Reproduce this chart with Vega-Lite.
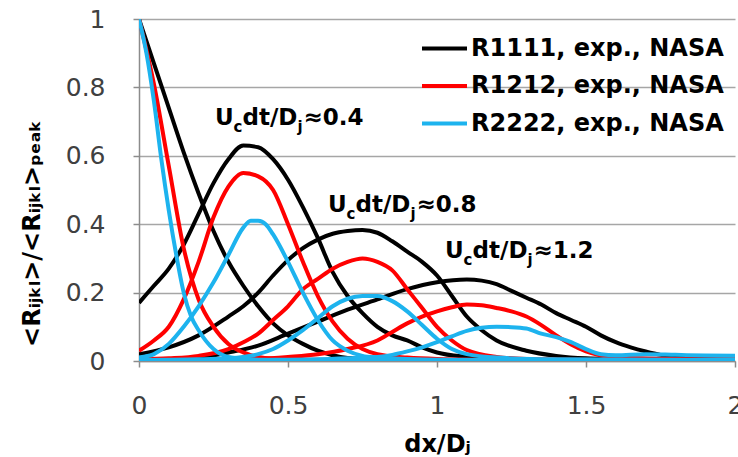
{
  "$schema": "https://vega.github.io/schema/vega-lite/v6.json",
  "width": 596,
  "height": 342,
  "autosize": {"type": "none"},
  "padding": {"left": 139, "top": 19, "right": 3, "bottom": 96},
  "background": "white",
  "config": {"view": {"stroke": null}, "font": "DejaVu Sans"},
  "datasets": {
    "curves": [
      {"s":"R1111","t":0,"x":0,"y":1},{"s":"R1111","t":0,"x":0.05,"y":0.87},{"s":"R1111","t":0,"x":0.1,"y":0.74},{"s":"R1111","t":0,"x":0.15,"y":0.61},{"s":"R1111","t":0,"x":0.2,"y":0.49},{"s":"R1111","t":0,"x":0.25,"y":0.38},{"s":"R1111","t":0,"x":0.3,"y":0.29},{"s":"R1111","t":0,"x":0.35,"y":0.22},{"s":"R1111","t":0,"x":0.4,"y":0.16},{"s":"R1111","t":0,"x":0.45,"y":0.11},{"s":"R1111","t":0,"x":0.5,"y":0.075},{"s":"R1111","t":0,"x":0.55,"y":0.05},{"s":"R1111","t":0,"x":0.6,"y":0.03},{"s":"R1111","t":0,"x":0.65,"y":0.017},{"s":"R1111","t":0,"x":0.7,"y":0.009},{"s":"R1111","t":0,"x":0.8,"y":0.004},{"s":"R1111","t":0,"x":1,"y":0.002},{"s":"R1111","t":0,"x":1.5,"y":0.001},{"s":"R1111","t":0,"x":2,"y":0},
      {"s":"R1111","t":0.4,"x":0,"y":0.17},{"s":"R1111","t":0.4,"x":0.05,"y":0.22},{"s":"R1111","t":0.4,"x":0.1,"y":0.27},{"s":"R1111","t":0.4,"x":0.15,"y":0.34},{"s":"R1111","t":0.4,"x":0.2,"y":0.43},{"s":"R1111","t":0.4,"x":0.25,"y":0.52},{"s":"R1111","t":0.4,"x":0.3,"y":0.59},{"s":"R1111","t":0.4,"x":0.35,"y":0.63},{"s":"R1111","t":0.4,"x":0.4,"y":0.625},{"s":"R1111","t":0.4,"x":0.45,"y":0.59},{"s":"R1111","t":0.4,"x":0.5,"y":0.53},{"s":"R1111","t":0.4,"x":0.55,"y":0.45},{"s":"R1111","t":0.4,"x":0.6,"y":0.36},{"s":"R1111","t":0.4,"x":0.65,"y":0.26},{"s":"R1111","t":0.4,"x":0.7,"y":0.19},{"s":"R1111","t":0.4,"x":0.75,"y":0.14},{"s":"R1111","t":0.4,"x":0.8,"y":0.1},{"s":"R1111","t":0.4,"x":0.85,"y":0.075},{"s":"R1111","t":0.4,"x":0.9,"y":0.06},{"s":"R1111","t":0.4,"x":0.95,"y":0.04},{"s":"R1111","t":0.4,"x":1,"y":0.025},{"s":"R1111","t":0.4,"x":1.1,"y":0.012},{"s":"R1111","t":0.4,"x":1.2,"y":0.006},{"s":"R1111","t":0.4,"x":1.4,"y":0.003},{"s":"R1111","t":0.4,"x":1.7,"y":0.002},{"s":"R1111","t":0.4,"x":2,"y":0.001},
      {"s":"R1111","t":0.8,"x":0,"y":0.02},{"s":"R1111","t":0.8,"x":0.1,"y":0.04},{"s":"R1111","t":0.8,"x":0.2,"y":0.075},{"s":"R1111","t":0.8,"x":0.3,"y":0.13},{"s":"R1111","t":0.8,"x":0.35,"y":0.16},{"s":"R1111","t":0.8,"x":0.4,"y":0.2},{"s":"R1111","t":0.8,"x":0.45,"y":0.25},{"s":"R1111","t":0.8,"x":0.5,"y":0.295},{"s":"R1111","t":0.8,"x":0.55,"y":0.33},{"s":"R1111","t":0.8,"x":0.6,"y":0.355},{"s":"R1111","t":0.8,"x":0.65,"y":0.372},{"s":"R1111","t":0.8,"x":0.7,"y":0.38},{"s":"R1111","t":0.8,"x":0.75,"y":0.383},{"s":"R1111","t":0.8,"x":0.8,"y":0.375},{"s":"R1111","t":0.8,"x":0.85,"y":0.35},{"s":"R1111","t":0.8,"x":0.9,"y":0.32},{"s":"R1111","t":0.8,"x":0.95,"y":0.29},{"s":"R1111","t":0.8,"x":1,"y":0.25},{"s":"R1111","t":0.8,"x":1.05,"y":0.19},{"s":"R1111","t":0.8,"x":1.1,"y":0.13},{"s":"R1111","t":0.8,"x":1.15,"y":0.09},{"s":"R1111","t":0.8,"x":1.2,"y":0.06},{"s":"R1111","t":0.8,"x":1.3,"y":0.03},{"s":"R1111","t":0.8,"x":1.4,"y":0.015},{"s":"R1111","t":0.8,"x":1.5,"y":0.008},{"s":"R1111","t":0.8,"x":1.7,"y":0.004},{"s":"R1111","t":0.8,"x":2,"y":0.002},
      {"s":"R1111","t":1.2,"x":0,"y":0},{"s":"R1111","t":1.2,"x":0.1,"y":0.003},{"s":"R1111","t":1.2,"x":0.2,"y":0.01},{"s":"R1111","t":1.2,"x":0.3,"y":0.025},{"s":"R1111","t":1.2,"x":0.4,"y":0.045},{"s":"R1111","t":1.2,"x":0.5,"y":0.08},{"s":"R1111","t":1.2,"x":0.6,"y":0.115},{"s":"R1111","t":1.2,"x":0.7,"y":0.15},{"s":"R1111","t":1.2,"x":0.8,"y":0.18},{"s":"R1111","t":1.2,"x":0.9,"y":0.21},{"s":"R1111","t":1.2,"x":1,"y":0.23},{"s":"R1111","t":1.2,"x":1.1,"y":0.238},{"s":"R1111","t":1.2,"x":1.15,"y":0.235},{"s":"R1111","t":1.2,"x":1.2,"y":0.225},{"s":"R1111","t":1.2,"x":1.25,"y":0.205},{"s":"R1111","t":1.2,"x":1.3,"y":0.185},{"s":"R1111","t":1.2,"x":1.35,"y":0.165},{"s":"R1111","t":1.2,"x":1.4,"y":0.14},{"s":"R1111","t":1.2,"x":1.45,"y":0.12},{"s":"R1111","t":1.2,"x":1.5,"y":0.1},{"s":"R1111","t":1.2,"x":1.55,"y":0.075},{"s":"R1111","t":1.2,"x":1.6,"y":0.055},{"s":"R1111","t":1.2,"x":1.65,"y":0.04},{"s":"R1111","t":1.2,"x":1.7,"y":0.028},{"s":"R1111","t":1.2,"x":1.75,"y":0.018},{"s":"R1111","t":1.2,"x":1.8,"y":0.012},{"s":"R1111","t":1.2,"x":1.9,"y":0.006},{"s":"R1111","t":1.2,"x":2,"y":0.004},
      {"s":"R1212","t":0,"x":0,"y":1},{"s":"R1212","t":0,"x":0.05,"y":0.81},{"s":"R1212","t":0,"x":0.1,"y":0.57},{"s":"R1212","t":0,"x":0.15,"y":0.33},{"s":"R1212","t":0,"x":0.2,"y":0.18},{"s":"R1212","t":0,"x":0.25,"y":0.1},{"s":"R1212","t":0,"x":0.3,"y":0.05},{"s":"R1212","t":0,"x":0.35,"y":0.025},{"s":"R1212","t":0,"x":0.4,"y":0.012},{"s":"R1212","t":0,"x":0.5,"y":0.005},{"s":"R1212","t":0,"x":0.7,"y":0.003},{"s":"R1212","t":0,"x":1,"y":0.002},{"s":"R1212","t":0,"x":1.5,"y":0.001},{"s":"R1212","t":0,"x":2,"y":0},
      {"s":"R1212","t":0.4,"x":0,"y":0.03},{"s":"R1212","t":0.4,"x":0.05,"y":0.06},{"s":"R1212","t":0.4,"x":0.1,"y":0.1},{"s":"R1212","t":0.4,"x":0.15,"y":0.18},{"s":"R1212","t":0.4,"x":0.2,"y":0.29},{"s":"R1212","t":0.4,"x":0.25,"y":0.42},{"s":"R1212","t":0.4,"x":0.3,"y":0.51},{"s":"R1212","t":0.4,"x":0.35,"y":0.55},{"s":"R1212","t":0.4,"x":0.4,"y":0.54},{"s":"R1212","t":0.4,"x":0.45,"y":0.5},{"s":"R1212","t":0.4,"x":0.5,"y":0.4},{"s":"R1212","t":0.4,"x":0.55,"y":0.29},{"s":"R1212","t":0.4,"x":0.6,"y":0.19},{"s":"R1212","t":0.4,"x":0.65,"y":0.115},{"s":"R1212","t":0.4,"x":0.7,"y":0.065},{"s":"R1212","t":0.4,"x":0.75,"y":0.035},{"s":"R1212","t":0.4,"x":0.8,"y":0.02},{"s":"R1212","t":0.4,"x":0.9,"y":0.01},{"s":"R1212","t":0.4,"x":1,"y":0.006},{"s":"R1212","t":0.4,"x":1.3,"y":0.003},{"s":"R1212","t":0.4,"x":2,"y":0.001},
      {"s":"R1212","t":0.8,"x":0,"y":0.005},{"s":"R1212","t":0.8,"x":0.1,"y":0.008},{"s":"R1212","t":0.8,"x":0.2,"y":0.015},{"s":"R1212","t":0.8,"x":0.3,"y":0.035},{"s":"R1212","t":0.8,"x":0.35,"y":0.055},{"s":"R1212","t":0.8,"x":0.4,"y":0.08},{"s":"R1212","t":0.8,"x":0.45,"y":0.12},{"s":"R1212","t":0.8,"x":0.5,"y":0.16},{"s":"R1212","t":0.8,"x":0.55,"y":0.21},{"s":"R1212","t":0.8,"x":0.6,"y":0.24},{"s":"R1212","t":0.8,"x":0.65,"y":0.27},{"s":"R1212","t":0.8,"x":0.7,"y":0.29},{"s":"R1212","t":0.8,"x":0.75,"y":0.3},{"s":"R1212","t":0.8,"x":0.8,"y":0.29},{"s":"R1212","t":0.8,"x":0.85,"y":0.265},{"s":"R1212","t":0.8,"x":0.9,"y":0.21},{"s":"R1212","t":0.8,"x":0.95,"y":0.155},{"s":"R1212","t":0.8,"x":1,"y":0.1},{"s":"R1212","t":0.8,"x":1.05,"y":0.06},{"s":"R1212","t":0.8,"x":1.1,"y":0.032},{"s":"R1212","t":0.8,"x":1.2,"y":0.012},{"s":"R1212","t":0.8,"x":1.3,"y":0.006},{"s":"R1212","t":0.8,"x":1.6,"y":0.003},{"s":"R1212","t":0.8,"x":2,"y":0.002},
      {"s":"R1212","t":1.2,"x":0,"y":0},{"s":"R1212","t":1.2,"x":0.2,"y":0.002},{"s":"R1212","t":1.2,"x":0.4,"y":0.006},{"s":"R1212","t":1.2,"x":0.5,"y":0.012},{"s":"R1212","t":1.2,"x":0.6,"y":0.02},{"s":"R1212","t":1.2,"x":0.7,"y":0.035},{"s":"R1212","t":1.2,"x":0.8,"y":0.06},{"s":"R1212","t":1.2,"x":0.85,"y":0.085},{"s":"R1212","t":1.2,"x":0.9,"y":0.11},{"s":"R1212","t":1.2,"x":0.95,"y":0.13},{"s":"R1212","t":1.2,"x":1,"y":0.145},{"s":"R1212","t":1.2,"x":1.05,"y":0.157},{"s":"R1212","t":1.2,"x":1.1,"y":0.165},{"s":"R1212","t":1.2,"x":1.15,"y":0.163},{"s":"R1212","t":1.2,"x":1.2,"y":0.155},{"s":"R1212","t":1.2,"x":1.25,"y":0.145},{"s":"R1212","t":1.2,"x":1.3,"y":0.13},{"s":"R1212","t":1.2,"x":1.35,"y":0.105},{"s":"R1212","t":1.2,"x":1.4,"y":0.075},{"s":"R1212","t":1.2,"x":1.45,"y":0.048},{"s":"R1212","t":1.2,"x":1.5,"y":0.028},{"s":"R1212","t":1.2,"x":1.55,"y":0.016},{"s":"R1212","t":1.2,"x":1.6,"y":0.01},{"s":"R1212","t":1.2,"x":1.8,"y":0.006},{"s":"R1212","t":1.2,"x":2,"y":0.005},
      {"s":"R2222","t":0,"x":0,"y":1},{"s":"R2222","t":0,"x":0.025,"y":0.9},{"s":"R2222","t":0,"x":0.05,"y":0.76},{"s":"R2222","t":0,"x":0.075,"y":0.59},{"s":"R2222","t":0,"x":0.1,"y":0.44},{"s":"R2222","t":0,"x":0.125,"y":0.31},{"s":"R2222","t":0,"x":0.15,"y":0.2},{"s":"R2222","t":0,"x":0.175,"y":0.13},{"s":"R2222","t":0,"x":0.2,"y":0.09},{"s":"R2222","t":0,"x":0.25,"y":0.035},{"s":"R2222","t":0,"x":0.3,"y":0.012},{"s":"R2222","t":0,"x":0.4,"y":0.004},{"s":"R2222","t":0,"x":0.6,"y":0.002},{"s":"R2222","t":0,"x":1,"y":0.001},{"s":"R2222","t":0,"x":2,"y":0},
      {"s":"R2222","t":0.4,"x":0,"y":0.01},{"s":"R2222","t":0.4,"x":0.05,"y":0.02},{"s":"R2222","t":0.4,"x":0.1,"y":0.05},{"s":"R2222","t":0.4,"x":0.15,"y":0.1},{"s":"R2222","t":0.4,"x":0.2,"y":0.16},{"s":"R2222","t":0.4,"x":0.25,"y":0.23},{"s":"R2222","t":0.4,"x":0.3,"y":0.31},{"s":"R2222","t":0.4,"x":0.35,"y":0.39},{"s":"R2222","t":0.4,"x":0.375,"y":0.41},{"s":"R2222","t":0.4,"x":0.4,"y":0.41},{"s":"R2222","t":0.4,"x":0.425,"y":0.4},{"s":"R2222","t":0.4,"x":0.45,"y":0.37},{"s":"R2222","t":0.4,"x":0.5,"y":0.29},{"s":"R2222","t":0.4,"x":0.55,"y":0.2},{"s":"R2222","t":0.4,"x":0.6,"y":0.12},{"s":"R2222","t":0.4,"x":0.65,"y":0.06},{"s":"R2222","t":0.4,"x":0.7,"y":0.03},{"s":"R2222","t":0.4,"x":0.75,"y":0.015},{"s":"R2222","t":0.4,"x":0.8,"y":0.01},{"s":"R2222","t":0.4,"x":0.9,"y":0.006},{"s":"R2222","t":0.4,"x":1,"y":0.004},{"s":"R2222","t":0.4,"x":1.5,"y":0.002},{"s":"R2222","t":0.4,"x":2,"y":0.001},
      {"s":"R2222","t":0.8,"x":0,"y":0.003},{"s":"R2222","t":0.8,"x":0.2,"y":0.005},{"s":"R2222","t":0.8,"x":0.3,"y":0.008},{"s":"R2222","t":0.8,"x":0.4,"y":0.02},{"s":"R2222","t":0.8,"x":0.45,"y":0.035},{"s":"R2222","t":0.8,"x":0.5,"y":0.06},{"s":"R2222","t":0.8,"x":0.55,"y":0.09},{"s":"R2222","t":0.8,"x":0.6,"y":0.125},{"s":"R2222","t":0.8,"x":0.65,"y":0.16},{"s":"R2222","t":0.8,"x":0.7,"y":0.182},{"s":"R2222","t":0.8,"x":0.75,"y":0.19},{"s":"R2222","t":0.8,"x":0.8,"y":0.19},{"s":"R2222","t":0.8,"x":0.85,"y":0.175},{"s":"R2222","t":0.8,"x":0.9,"y":0.145},{"s":"R2222","t":0.8,"x":0.95,"y":0.105},{"s":"R2222","t":0.8,"x":1,"y":0.065},{"s":"R2222","t":0.8,"x":1.05,"y":0.035},{"s":"R2222","t":0.8,"x":1.1,"y":0.02},{"s":"R2222","t":0.8,"x":1.2,"y":0.01},{"s":"R2222","t":0.8,"x":1.4,"y":0.005},{"s":"R2222","t":0.8,"x":2,"y":0.003},
      {"s":"R2222","t":1.2,"x":0,"y":0},{"s":"R2222","t":1.2,"x":0.4,"y":0.003},{"s":"R2222","t":1.2,"x":0.6,"y":0.005},{"s":"R2222","t":1.2,"x":0.7,"y":0.008},{"s":"R2222","t":1.2,"x":0.8,"y":0.012},{"s":"R2222","t":1.2,"x":0.85,"y":0.018},{"s":"R2222","t":1.2,"x":0.9,"y":0.028},{"s":"R2222","t":1.2,"x":0.95,"y":0.04},{"s":"R2222","t":1.2,"x":1,"y":0.055},{"s":"R2222","t":1.2,"x":1.05,"y":0.072},{"s":"R2222","t":1.2,"x":1.1,"y":0.088},{"s":"R2222","t":1.2,"x":1.15,"y":0.097},{"s":"R2222","t":1.2,"x":1.2,"y":0.1},{"s":"R2222","t":1.2,"x":1.25,"y":0.099},{"s":"R2222","t":1.2,"x":1.3,"y":0.095},{"s":"R2222","t":1.2,"x":1.35,"y":0.08},{"s":"R2222","t":1.2,"x":1.4,"y":0.07},{"s":"R2222","t":1.2,"x":1.45,"y":0.055},{"s":"R2222","t":1.2,"x":1.5,"y":0.035},{"s":"R2222","t":1.2,"x":1.55,"y":0.02},{"s":"R2222","t":1.2,"x":1.6,"y":0.017},{"s":"R2222","t":1.2,"x":1.7,"y":0.02},{"s":"R2222","t":1.2,"x":1.8,"y":0.018},{"s":"R2222","t":1.2,"x":1.9,"y":0.016},{"s":"R2222","t":1.2,"x":2,"y":0.015}
    ],
    "notes": [
      {"x": 0.255, "y": 0.69, "v": "≈0.4"},
      {"x": 0.634, "y": 0.436, "v": "≈0.8"},
      {"x": 1.027, "y": 0.301, "v": "≈1.2"}
    ]
  },
  "layer": [
    {
      "data": {"name": "curves"},
      "mark": {"type": "line", "strokeWidth": 4, "interpolate": "monotone", "clip": true},
      "encoding": {
        "x": {
          "field": "x", "type": "quantitative",
          "scale": {"domain": [0, 2], "nice": false},
          "axis": {
            "values": [0, 0.5, 1, 1.5, 2], "format": "~g", "grid": false,
            "domainColor": "#8c8c8c", "domainWidth": 1.5, "tickColor": "#8c8c8c", "tickSize": 6, "tickWidth": 1.5,
            "labelFont": "DejaVu Sans", "labelFontSize": 25, "labelColor": "#404040", "labelPadding": 26, "labelFlush": false,
            "title": "dx/Dⱼ", "titleFont": "DejaVu Sans", "titleFontSize": 24, "titleFontWeight": "bold", "titleColor": "#000000",
            "titleY": 90, "titleBaseline": "alphabetic"
          }
        },
        "y": {
          "field": "y", "type": "quantitative",
          "scale": {"domain": [0, 1], "nice": false},
          "axis": {
            "values": [0, 0.2, 0.4, 0.6, 0.8, 1], "format": "~g",
            "grid": true, "gridColor": "#a6a6a6", "gridWidth": 1.5,
            "domainColor": "#8c8c8c", "domainWidth": 1.5, "tickColor": "#8c8c8c", "tickSize": 6, "tickWidth": 1.5,
            "labelFont": "DejaVu Sans", "labelFontSize": 25, "labelColor": "#404040", "labelPadding": 28, "labelFlush": false,
            "title": "<Rᵢⱼₖₗ>/<Rᵢⱼₖₗ>ₚₑₐₖ", "titleFont": "DejaVu Sans", "titleFontSize": 24, "titleFontWeight": "bold", "titleColor": "#000000",
            "titleAngle": 270, "titleX": -100, "titleY": 214, "titleAlign": "center", "titleBaseline": "alphabetic"
          }
        },
        "color": {
          "field": "s", "type": "nominal",
          "scale": {"domain": ["R1111", "R1212", "R2222"], "range": ["#000000", "#ff0000", "#1db3ee"]},
          "legend": {
            "orient": "none", "legendX": 281, "legendY": 5, "title": null,
            "symbolType": "stroke", "symbolSize": 2025, "symbolStrokeWidth": 4,
            "labelFont": "DejaVu Sans", "labelFontSize": 24, "labelFontWeight": "bold", "labelColor": "#000000",
            "labelOffset": 2, "rowPadding": 0.5, "labelLimit": 400,
            "labelExpr": "datum.label + ', exp., NASA'"
          }
        },
        "detail": {"field": "t", "type": "nominal"}
      }
    },
    {
      "data": {"name": "notes"},
      "mark": {"type": "text", "text": "U", "align": "left", "baseline": "alphabetic", "font": "DejaVu Sans", "fontSize": 23, "fontWeight": "bold", "color": "#000000"},
      "encoding": {"x": {"field": "x", "type": "quantitative"}, "y": {"field": "y", "type": "quantitative"}}
    },
    {
      "data": {"name": "notes"},
      "mark": {"type": "text", "text": "c", "align": "left", "baseline": "alphabetic", "dx": 18.5, "dy": 7, "font": "DejaVu Sans", "fontSize": 15, "fontWeight": "bold", "color": "#000000"},
      "encoding": {"x": {"field": "x", "type": "quantitative"}, "y": {"field": "y", "type": "quantitative"}}
    },
    {
      "data": {"name": "notes"},
      "mark": {"type": "text", "text": "dt/D", "align": "left", "baseline": "alphabetic", "dx": 27.5, "font": "DejaVu Sans", "fontSize": 23, "fontWeight": "bold", "color": "#000000"},
      "encoding": {"x": {"field": "x", "type": "quantitative"}, "y": {"field": "y", "type": "quantitative"}}
    },
    {
      "data": {"name": "notes"},
      "mark": {"type": "text", "text": "j", "align": "left", "baseline": "alphabetic", "dx": 82.5, "dy": 7, "font": "DejaVu Sans", "fontSize": 15, "fontWeight": "bold", "color": "#000000"},
      "encoding": {"x": {"field": "x", "type": "quantitative"}, "y": {"field": "y", "type": "quantitative"}}
    },
    {
      "data": {"name": "notes"},
      "mark": {"type": "text", "align": "left", "baseline": "alphabetic", "dx": 88.5, "font": "DejaVu Sans", "fontSize": 23, "fontWeight": "bold", "color": "#000000"},
      "encoding": {"x": {"field": "x", "type": "quantitative"}, "y": {"field": "y", "type": "quantitative"}, "text": {"field": "v", "type": "nominal"}}
    }
  ]
}
